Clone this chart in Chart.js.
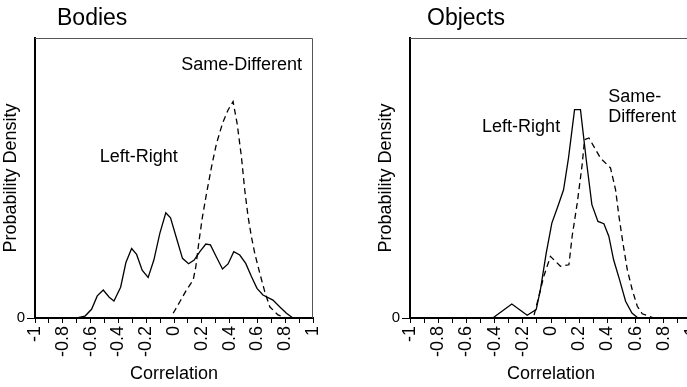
<!DOCTYPE html>
<html>
<head>
<meta charset="utf-8">
<script src="https://cdn.jsdelivr.net/npm/chart.js@4"></script>
<style>
  body { margin: 0; overflow: hidden; background: #fff; }
  .panel { position: absolute; top: 0; height: 387px; width: 343px; }
</style>
</head>
<body>
<div class="panel" style="left:0"><canvas id="bodies"></canvas></div>
<div class="panel" style="left:375px"><canvas id="objects"></canvas></div>
<script>
// Bodies panel
const bodiesLrX = [-0.70, -0.64, -0.593, -0.552, -0.509, -0.466, -0.432, -0.384, -0.346, -0.305, -0.269, -0.229, -0.186, -0.145, -0.102, -0.059, -0.025, 0.015, 0.061, 0.105, 0.145, 0.186, 0.229, 0.262, 0.306, 0.349, 0.389, 0.43, 0.473, 0.516, 0.557, 0.597, 0.64, 0.712, 0.76, 0.809, 0.856];
const bodiesLrY = [0, 0.7, 3.1, 7.9, 10, 7.4, 6.1, 11, 19.8, 24.8, 22.7, 17.1, 14.5, 20.7, 30.2, 37.6, 35.8, 29, 21.3, 19.4, 20.7, 23.7, 26.4, 26.1, 21.7, 17.5, 19.3, 23.7, 22.5, 19.5, 14.8, 10.6, 8.2, 6.4, 4, 1.7, 0];
const bodiesSdX = [-0.006, 0.042, 0.09, 0.138, 0.157, 0.181, 0.205, 0.234, 0.27, 0.306, 0.349, 0.389, 0.425, 0.454, 0.485, 0.509, 0.533, 0.557, 0.581, 0.617, 0.653, 0.689, 0.748, 0.809];
const bodiesSdY = [1.7, 5.8, 10, 13.6, 18.3, 27.9, 36.2, 44.5, 54, 62.4, 69.5, 74.3, 77.3, 69.5, 57.6, 45.7, 36.2, 29, 23.1, 16, 9.4, 4, 1.1, 0];

// Objects panel
const objectsLrX = [-0.413, -0.278, -0.169, -0.105, -0.075, -0.034, 0.006, 0.049, 0.089, 0.124, 0.167, 0.209, 0.25, 0.29, 0.333, 0.375, 0.41, 0.444, 0.486, 0.529, 0.574, 0.617];
const objectsLrY = [0, 5, 1, 3, 10.1, 23.2, 33.9, 39.9, 45.8, 57.1, 74.4, 74.4, 56.5, 40.5, 34.5, 33.7, 29.2, 20.8, 13.7, 6, 1.8, 0];
const objectsSdX = [-0.12, -0.098, -0.051, -0.004, 0.067, 0.127, 0.15, 0.186, 0.221, 0.238, 0.269, 0.351, 0.422, 0.458, 0.482, 0.51, 0.541, 0.576, 0.612, 0.647, 0.73];
const objectsSdY = [1, 5.4, 14.9, 22, 18.5, 19, 29.2, 41, 54.8, 63.7, 64.3, 57.1, 53.6, 45.8, 36.3, 26.8, 17.3, 10.1, 4.2, 1.5, 0];

const xMin = -1, xMax = 1, xStep = 0.1;
const yMin = 0, yMax = 100;
const yTickValues = [0];

Chart.defaults.font.family = '"Liberation Sans", Arial, sans-serif';
Chart.defaults.color = '#000';

function toPoints(xs, ys) {
  return xs.map((x, i) => ({ x: x, y: ys[i] }));
}

// title, labels and the thin top/right frame
const decorations = {
  id: 'decorations',
  afterDraw(chart, args, opts) {
    const ctx = chart.ctx;
    const area = chart.chartArea;
    const xs = chart.scales.x, ys = chart.scales.y;
    ctx.save();
    ctx.strokeStyle = '#555';
    ctx.lineWidth = 1;
    ctx.beginPath();
    ctx.moveTo(area.left, area.top + 0.5);
    ctx.lineTo(area.right - 0.5, area.top + 0.5);
    ctx.lineTo(area.right - 0.5, area.bottom);
    ctx.stroke();

    ctx.fillStyle = '#000';
    ctx.textBaseline = 'middle';
    ctx.textAlign = 'left';
    ctx.font = '23px "Liberation Sans", Arial, sans-serif';
    ctx.fillText(opts.title, area.left + opts.titleOffset, 19);

    ctx.font = '18px "Liberation Sans", Arial, sans-serif';
    opts.labels.forEach(l => {
      ctx.textAlign = l.align;
      ctx.fillText(l.text, xs.getPixelForValue(l.x), ys.getPixelForValue(l.y));
    });
    ctx.restore();
  }
};

function makeChart(id, lrX, lrY, sdX, sdY, padRight, title, titleOffset, labels) {
  return new Chart(document.getElementById(id), {
    type: 'line',
    data: {
      datasets: [{
        label: 'Left-Right',
        data: toPoints(lrX, lrY),
        borderColor: '#000',
        borderWidth: 1.3,
        pointRadius: 0,
        tension: 0
      }, {
        label: 'Same-Different',
        data: toPoints(sdX, sdY),
        borderColor: '#000',
        borderWidth: 1.3,
        borderDash: [6, 4],
        pointRadius: 0,
        tension: 0
      }]
    },
    options: {
      responsive: true,
      maintainAspectRatio: false,
      animation: false,
      layout: { padding: { top: 38, right: padRight, bottom: 0, left: 0 } },
      plugins: {
        legend: { display: false },
        tooltip: { enabled: false },
        decorations: { title: title, titleOffset: titleOffset, labels: labels }
      },
      scales: {
        x: {
          type: 'linear',
          min: xMin,
          max: xMax,
          afterFit(scale) { scale.height = 69; },
          border: { display: true, color: '#000', width: 2 },
          grid: { drawOnChartArea: false, color: '#000', tickColor: '#000', tickLength: 5 },
          ticks: {
            stepSize: xStep,
            autoSkip: false,
            minRotation: 90,
            maxRotation: 90,
            padding: 3,
            font: { size: 18 },
            callback: function(value) {
              const n = Math.round(value * 10);
              if (n % 2 !== 0) return '';
              return String(n / 10);
            }
          },
          title: { display: true, text: 'Correlation', font: { size: 18 }, padding: { top: 0, bottom: 2 } }
        },
        y: {
          min: yMin,
          max: yMax,
          afterFit(scale) { scale.width = 35; },
          afterBuildTicks(scale) { scale.ticks = yTickValues.map(v => ({ value: v })); },
          border: { display: true, color: '#000', width: 2 },
          grid: { drawOnChartArea: false, color: '#000', tickColor: '#000', tickLength: 8 },
          ticks: { padding: 2, font: { size: 15 } },
          title: { display: true, text: 'Probability Density', font: { size: 18 }, padding: { top: 0, bottom: 0 } }
        }
      }
    },
    plugins: [decorations]
  });
}

makeChart('bodies', bodiesLrX, bodiesLrY, bodiesSdX, bodiesSdY, 30, 'Bodies', 22, [
  { text: 'Same-Different', x: 0.487, y: 90.4, align: 'center' },
  { text: 'Left-Right', x: -0.253, y: 57.5, align: 'center' }
]);

makeChart('objects', objectsLrX, objectsLrY, objectsSdX, objectsSdY, 26, 'Objects', 17, [
  { text: 'Left-Right', x: -0.212, y: 68.2, align: 'center' },
  { text: 'Same-', x: 0.406, y: 78.9, align: 'left' },
  { text: 'Different', x: 0.406, y: 71.8, align: 'left' }
]);
</script>
</body>
</html>
